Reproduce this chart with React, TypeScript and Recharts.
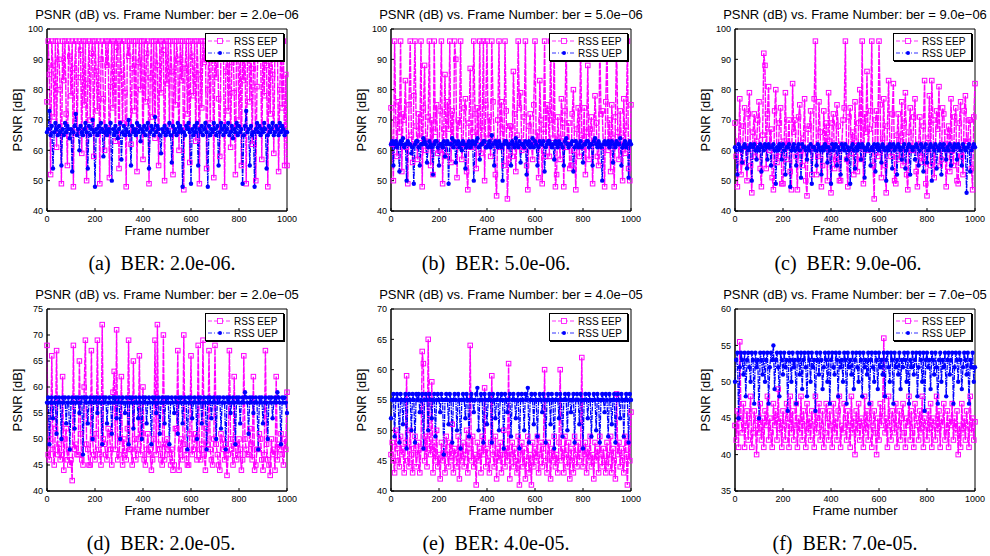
import { LineChart, Line, XAxis, YAxis, ReferenceArea } from 'recharts';

// one sample every 5 frames
const FRAME_STEP = 5;
const frameTicks = [0, 200, 400, 600, 800, 1000];

const eepA = [
  76, 96, 85, 52, 96, 88, 71, 96, 61, 96, 90, 80, 49, 96, 83, 96, 72, 55, 96, 91,
  78, 96, 48, 87, 96, 66, 84, 96, 93, 59, 96, 75, 96, 50, 82, 96, 70, 92, 96, 58,
  96, 86, 73, 96, 49, 90, 96, 77, 60, 96, 88, 96, 51, 81, 96, 74, 96, 63, 94, 96,
  54, 96, 85, 69, 96, 79, 48, 96, 91, 96, 62, 87, 96, 73, 96, 53, 89, 96, 80, 96,
  57, 96, 76, 92, 96, 49, 84, 96, 71, 96, 64, 96, 88, 55, 96, 79, 96, 93, 50, 96,
  82, 96, 68, 96, 86, 52, 96, 75, 96, 90, 60, 96, 83, 96, 47, 87, 96, 72, 96, 56,
  96, 91, 78, 96, 63, 96, 85, 49, 96, 74, 96, 89, 96, 54, 80, 96, 69, 94, 96, 51,
  96, 84, 96, 77, 58, 96, 92, 96, 48, 86, 96, 73, 96, 61, 89, 96, 79, 52, 96, 95,
  70, 96, 55, 96, 83, 96, 49, 90, 96, 76, 96, 62, 87, 96, 50, 81, 96, 93, 96, 57,
  96, 78, 96, 88, 48, 96, 72, 96, 85, 59, 96, 91, 96, 53, 80, 96, 74, 96, 55, 85,
  55,
];
const uepA = [
  66, 67, 73, 65, 68, 54, 66, 69, 67, 65, 68, 66, 55, 67, 65, 69, 66, 68, 67, 64,
  67, 53, 66, 68, 72, 65, 67, 60, 68, 66, 65, 67, 69, 66, 54, 68, 65, 67, 70, 66,
  48, 67, 65, 68, 66, 69, 67, 58, 66, 68, 65, 67, 66, 69, 50, 67, 65, 68, 66, 64,
  67, 69, 57, 66, 68, 65, 67, 66, 70, 65, 55, 68, 66, 67, 65, 69, 66, 68, 63, 67,
  66, 68, 65, 67, 69, 54, 66, 68, 67, 65, 71, 66, 68, 67, 65, 59, 67, 66, 68, 65,
  67, 66, 69, 65, 56, 68, 66, 67, 65, 69, 66, 68, 67, 48, 66, 65, 68, 67, 69, 66,
  49, 67, 65, 68, 66, 69, 55, 67, 66, 68, 65, 67, 69, 66, 48, 68, 65, 67, 66, 69,
  67, 65, 68, 55, 66, 69, 67, 65, 68, 66, 67, 69, 65, 66, 68, 64, 67, 66, 69, 65,
  68, 66, 67, 49, 65, 68, 73, 66, 67, 55, 68, 65, 66, 48, 67, 69, 66, 68, 65, 67,
  66, 69, 67, 54, 65, 68, 66, 67, 69, 65, 66, 68, 67, 65, 69, 66, 68, 67, 65, 66,
  66,
];

const eepB = [
  74, 62, 50, 96, 70, 58, 76, 66, 96, 53, 72, 70, 83, 61, 49, 75, 96, 65, 56, 78,
  96, 68, 57, 72, 64, 96, 48, 74, 88, 60, 63, 71, 96, 55, 70, 52, 96, 66, 75, 59,
  60, 73, 96, 49, 67, 85, 58, 76, 67, 96, 56, 73, 62, 96, 90, 51, 70, 68, 96, 57,
  62, 74, 77, 53, 47, 69, 87, 61, 66, 96, 72, 54, 74, 63, 96, 59, 68, 96, 50, 75,
  96, 64, 71, 58, 96, 76, 63, 52, 45, 70, 96, 61, 76, 67, 55, 96, 73, 44, 57, 68,
  68, 58, 86, 72, 53, 65, 96, 74, 79, 60, 61, 71, 96, 55, 47, 68, 72, 62, 57, 75,
  96, 63, 66, 51, 83, 70, 49, 67, 96, 58, 75, 73, 58, 96, 70, 64, 96, 48, 52, 71,
  64, 57, 77, 69, 48, 73, 96, 61, 69, 54, 55, 72, 80, 60, 47, 67, 74, 58, 96, 65,
  61, 74, 52, 66, 88, 57, 67, 71, 49, 63, 78, 69, 58, 55, 96, 72, 73, 61, 48, 76,
  96, 60, 70, 53, 75, 64, 48, 71, 96, 66, 57, 73, 63, 50, 77, 59, 68, 96, 54, 50,
  75,
];
const uepB = [
  62, 63, 55, 62, 63, 61, 62, 53, 63, 62, 64, 61, 62, 50, 63, 62, 62, 59, 61, 49,
  62, 63, 63, 61, 55, 62, 62, 64, 63, 62, 56, 61, 63, 62, 61, 52, 62, 63, 63, 61,
  55, 62, 62, 61, 63, 58, 62, 63, 49, 62, 62, 64, 61, 63, 56, 62, 63, 61, 62, 60,
  63, 62, 54, 61, 62, 63, 61, 62, 63, 50, 62, 63, 64, 61, 57, 62, 62, 63, 63, 61,
  61, 62, 63, 61, 65, 62, 55, 63, 62, 61, 63, 62, 61, 50, 62, 63, 63, 62, 61, 62,
  55, 63, 62, 61, 64, 62, 61, 63, 56, 62, 62, 61, 63, 52, 62, 63, 61, 62, 64, 61,
  63, 62, 55, 61, 63, 62, 62, 63, 53, 61, 62, 63, 63, 62, 61, 62, 57, 63, 62, 61,
  63, 62, 62, 61, 55, 63, 64, 62, 61, 62, 62, 63, 53, 61, 63, 62, 61, 62, 63, 61,
  56, 62, 62, 63, 63, 61, 62, 62, 55, 63, 64, 62, 61, 63, 62, 61, 50, 62, 63, 62,
  62, 63, 61, 62, 63, 56, 62, 61, 63, 62, 62, 64, 55, 61, 62, 63, 61, 62, 51, 63,
  62,
];

const eepC = [
  69, 58, 48, 63, 77, 52, 56, 68, 74, 61, 50, 72, 79, 55, 46, 66, 72, 58, 63, 70,
  76, 54, 48, 65, 92, 88, 54, 72, 81, 60, 67, 51, 47, 73, 80, 56, 58, 69, 74, 49,
  49, 63, 79, 57, 62, 70, 53, 47, 82, 66, 70, 58, 47, 71, 75, 60, 55, 64, 77, 50,
  45, 67, 68, 73, 52, 61, 77, 96, 52, 58, 76, 66, 48, 55, 73, 61, 69, 50, 79, 63,
  46, 69, 72, 54, 57, 75, 68, 50, 50, 62, 70, 74, 96, 57, 48, 71, 74, 59, 66, 52,
  76, 63, 53, 69, 80, 57, 96, 49, 72, 66, 86, 60, 67, 73, 96, 55, 44, 70, 73, 58,
  96, 75, 51, 64, 77, 55, 46, 68, 83, 61, 58, 72, 82, 50, 49, 65, 72, 57, 63, 76,
  55, 69, 79, 52, 47, 66, 74, 60, 60, 71, 77, 53, 48, 62, 71, 58, 56, 68, 83, 49,
  45, 64, 78, 55, 83, 70, 51, 61, 73, 67, 81, 55, 57, 74, 72, 62, 48, 66, 68, 53,
  77, 60, 55, 71, 74, 50, 49, 69, 76, 58, 52, 73, 78, 63, 63, 70, 70, 54, 47, 71,
  82,
];
const uepC = [
  61, 60, 52, 62, 61, 60, 56, 61, 62, 61, 54, 60, 61, 62, 50, 61, 62, 60, 57, 61,
  60, 62, 53, 61, 60, 62, 61, 57, 62, 61, 55, 61, 62, 60, 49, 61, 60, 62, 61, 57,
  62, 60, 52, 61, 61, 62, 48, 60, 61, 62, 60, 55, 61, 62, 60, 51, 62, 61, 61, 60,
  57, 61, 60, 62, 49, 61, 61, 60, 55, 62, 61, 60, 52, 61, 60, 62, 61, 56, 61, 60,
  49, 62, 60, 61, 62, 55, 61, 60, 52, 62, 61, 60, 62, 57, 61, 60, 49, 61, 62, 60,
  54, 61, 60, 62, 61, 57, 62, 61, 51, 60, 61, 62, 60, 55, 61, 60, 62, 53, 61, 62,
  60, 61, 56, 62, 61, 60, 50, 61, 60, 62, 61, 54, 62, 60, 61, 52, 62, 61, 60, 57,
  61, 62, 54, 60, 61, 62, 52, 61, 60, 61, 57, 62, 61, 55, 60, 62, 61, 53, 61, 62,
  56, 60, 61, 62, 50, 61, 60, 62, 54, 61, 60, 62, 52, 61, 62, 60, 57, 61, 60, 62,
  55, 61, 60, 62, 61, 57, 62, 61, 60, 55, 62, 61, 60, 46, 61, 62, 53, 60, 61, 62,
  61,
];

const eepD = [
  68, 47, 46, 50, 66, 48, 45, 52, 67, 47, 49, 46, 47, 62, 44, 50, 52, 46, 48, 45,
  46, 42, 68, 48, 49, 47, 47, 65, 51, 46, 45, 60, 69, 49, 48, 45, 45, 67, 50, 47,
  46, 51, 69, 48, 47, 45, 72, 50, 49, 47, 46, 52, 51, 48, 45, 59, 63, 48, 71, 46,
  47, 50, 62, 45, 50, 47, 46, 52, 69, 48, 48, 45, 65, 50, 46, 48, 50, 66, 47, 51,
  60, 46, 45, 48, 51, 47, 48, 44, 46, 50, 69, 47, 72, 49, 48, 46, 45, 70, 46, 49,
  50, 48, 47, 45, 48, 44, 45, 52, 52, 67, 44, 48, 50, 46, 70, 49, 47, 45, 45, 51,
  66, 47, 48, 50, 51, 46, 68, 48, 46, 49, 69, 47, 44, 52, 49, 67, 48, 46, 45, 50,
  68, 49, 47, 45, 44, 51, 50, 48, 46, 49, 43, 47, 67, 50, 48, 45, 62, 49, 46, 47,
  50, 48, 44, 46, 66, 50, 48, 47, 47, 52, 49, 46, 62, 44, 45, 48, 48, 51, 50, 46,
  44, 47, 67, 49, 46, 45, 43, 50, 47, 48, 44, 62, 46, 49, 48, 51, 47, 45, 50, 48,
  59,
];
const uepD = [
  57, 58, 49, 57, 58, 54, 57, 58, 51, 57, 58, 57, 50, 58, 57, 58, 53, 57, 58, 48,
  57, 58, 57, 52, 58, 57, 58, 55, 57, 58, 47, 58, 57, 58, 53, 57, 58, 57, 50, 58,
  57, 58, 55, 57, 58, 57, 49, 58, 57, 58, 53, 57, 58, 57, 51, 58, 57, 58, 54, 57,
  58, 50, 57, 58, 57, 55, 58, 57, 49, 58, 57, 58, 52, 57, 58, 57, 54, 58, 57, 50,
  58, 57, 58, 53, 57, 58, 57, 49, 58, 57, 58, 55, 57, 58, 51, 57, 58, 57, 53, 58,
  57, 58, 49, 57, 58, 57, 55, 58, 57, 51, 58, 57, 58, 53, 57, 58, 57, 48, 58, 57,
  58, 54, 57, 58, 57, 50, 58, 57, 58, 53, 57, 58, 57, 48, 58, 57, 58, 54, 57, 58,
  57, 50, 58, 57, 58, 52, 57, 58, 57, 48, 58, 57, 58, 55, 57, 58, 57, 49, 58, 57,
  58, 53, 57, 58, 57, 59, 58, 57, 51, 58, 57, 58, 55, 57, 58, 57, 48, 58, 57, 58,
  53, 57, 58, 57, 50, 58, 57, 58, 54, 57, 58, 57, 59, 58, 57, 49, 58, 57, 58, 57,
  55,
];

const eepE = [
  46, 48, 45, 43, 50, 47, 45, 44, 49, 46, 47, 43, 48, 59, 45, 44, 50, 46, 43, 47,
  49, 44, 46, 48, 43, 47, 63, 61, 45, 49, 44, 65, 47, 46, 58, 43, 48, 45, 50, 44,
  46, 42, 48, 45, 47, 43, 49, 46, 44, 48, 45, 51, 43, 47, 46, 44, 49, 42, 47, 45,
  48, 44, 46, 50, 43, 47, 64, 45, 49, 44, 46, 41, 48, 45, 47, 43, 49, 46, 57, 44,
  47, 45, 43, 48, 59, 46, 44, 49, 42, 47, 45, 48, 43, 46, 50, 44, 47, 45, 61, 42,
  46, 48, 44, 47, 45, 43, 49, 41, 46, 48, 44, 47, 42, 45, 49, 43, 46, 41, 48, 44,
  47, 45, 49, 43, 46, 48, 44, 47, 60, 45, 43, 48, 46, 42, 47, 45, 49, 44, 46, 43,
  48, 60, 45, 47, 43, 49, 46, 44, 48, 42, 47, 45, 43, 49, 46, 44, 48, 45, 47, 62,
  44, 46, 48, 43, 47, 45, 49, 44, 46, 42, 48, 45, 47, 43, 49, 46, 44, 47, 45, 43,
  48, 44, 46, 49, 43, 47, 45, 42, 56, 46, 48, 44, 47, 45, 43, 49, 46, 41, 48, 45,
  53,
];
const uepE = [
  52, 55, 56, 49, 55, 56, 55, 48, 56, 55, 51, 55, 56, 47, 55, 56, 55, 50, 56, 55,
  48, 56, 55, 56, 53, 55, 56, 47, 55, 56, 55, 50, 56, 55, 52, 55, 56, 49, 55, 56,
  55, 53, 56, 55, 46, 55, 56, 55, 51, 56, 55, 48, 55, 56, 55, 50, 56, 55, 47, 55,
  56, 55, 52, 56, 55, 49, 55, 56, 55, 53, 55, 56, 57, 50, 55, 56, 55, 48, 56, 55,
  51, 55, 56, 55, 48, 56, 55, 52, 55, 56, 50, 55, 56, 55, 47, 56, 55, 53, 55, 56,
  49, 55, 56, 55, 52, 55, 56, 47, 55, 56, 55, 50, 56, 55, 57, 48, 55, 56, 55, 51,
  56, 55, 49, 55, 56, 55, 53, 56, 55, 48, 55, 56, 55, 51, 56, 55, 47, 55, 56, 55,
  52, 56, 55, 49, 55, 56, 55, 50, 56, 55, 53, 55, 56, 48, 55, 56, 55, 51, 56, 55,
  47, 55, 56, 55, 52, 56, 55, 49, 55, 56, 55, 50, 56, 55, 48, 55, 56, 55, 53, 56,
  55, 49, 56, 55, 51, 55, 56, 48, 55, 56, 55, 52, 56, 55, 49, 55, 56, 55, 48, 56,
  55,
];

const eepF = [
  44, 42, 46, 41, 55.5, 45, 43, 47, 41, 44, 46, 42, 45, 48, 41, 43, 46, 44, 40, 45,
  43, 47, 42, 45, 41, 46, 44, 48, 42, 45, 43, 41, 47, 44, 46, 42, 49, 43, 45, 41,
  46, 44, 42, 47, 45, 41, 48, 43, 46, 42, 44, 47, 41, 45, 43, 48, 42, 46, 44, 41,
  47, 43, 45, 42, 46, 44, 41, 48, 43, 45, 47, 42, 44, 46, 41, 43, 47, 45, 42, 46,
  44, 41, 47, 43, 45, 42, 46, 48, 41, 44, 43, 47, 45, 42, 46, 44, 41, 48, 43, 45,
  40, 46, 43, 47, 42, 45, 44, 41, 48, 43, 46, 42, 45, 47, 41, 44, 46, 43, 40, 45,
  42, 47, 44, 46, 56, 43, 45, 41, 48, 44, 42, 46, 45, 43, 47, 41, 44, 46, 42, 45,
  47, 43, 41, 45, 44, 48, 42, 46, 43, 41, 47, 45, 44, 42, 46, 43, 48, 41, 45, 44,
  42, 46, 43, 47, 41, 45, 44, 42, 48, 43, 46, 41, 45, 44, 47, 42, 43, 46, 41, 45,
  44, 47, 42, 45, 43, 46, 40, 44, 41, 47, 43, 45, 42, 46, 44, 41, 48, 43, 45, 42,
  44.5,
];
const uepF = [
  50, 53, 54, 45, 52, 54, 53, 51, 54, 48, 53, 54, 52, 50, 54, 53, 47, 54, 52, 53,
  45, 54, 53, 51, 54, 50, 53, 54, 47, 52, 54, 53, 55, 49, 53, 54, 52, 48, 54, 53,
  51, 54, 52, 53, 46, 54, 53, 50, 54, 52, 53, 47, 54, 53, 51, 54, 49, 53, 54, 52,
  48, 54, 53, 50, 54, 52, 53, 46, 54, 53, 51, 54, 53, 49, 52, 54, 53, 50, 54, 47,
  53, 54, 52, 51, 54, 53, 48, 54, 52, 53, 50, 54, 53, 47, 54, 52, 53, 51, 54, 49,
  53, 54, 52, 50, 54, 53, 48, 54, 52, 53, 51, 54, 47, 53, 54, 52, 50, 54, 53, 49,
  54, 52, 53, 51, 54, 48, 53, 54, 52, 50, 54, 53, 47, 54, 52, 53, 51, 54, 49, 53,
  52, 54, 53, 50, 54, 47, 53, 52, 54, 51, 53, 54, 48, 52, 54, 53, 50, 54, 46, 53,
  54, 52, 53, 49, 54, 53, 51, 54, 52, 47, 53, 54, 50, 53, 52, 54, 48, 53, 54, 51,
  53, 54, 47, 52, 54, 53, 50, 54, 53, 49, 52, 54, 53, 51, 54, 47, 53, 52, 54, 50,
  52,
];

const yTicksHigh = [40, 50, 60, 70, 80, 90, 100];
const yTicksD = [40, 45, 50, 55, 60, 65, 70, 75];
const yTicksE = [40, 45, 50, 55, 60, 65, 70];
const yTicksF = [35, 40, 45, 50, 55, 60];

const EEP = '#ff00ff';
const UEP = '#0000ff';
const SANS = '"Liberation Sans", Arial, Helvetica, sans-serif';

const PW = 240;
const PH = 182;
const ML = 40;
const MT = 5;
const MR = 16;
const XH = 24;

const squareDot = (p: any) => {
  if (p.cx == null || p.cy == null) return <g key={p.index} />;
  return <rect key={p.index} x={p.cx - 2.25} y={p.cy - 2.25} width={4.5} height={4.5} fill="none" stroke={EEP} strokeWidth={1} />;
};

type PanelProps = {
  x: number;
  y: number;
  ber: string;
  caption: string;
  capX: number;
  eep: number[];
  uep: number[];
  yTicks: number[];
};

function Panel({ x, y, ber, caption, capX, eep, uep, yTicks }: PanelProps) {
  const data = eep.map((v, i) => ({ frame: i * FRAME_STEP, eep: v, uep: uep[i] }));
  const yMin = yTicks[0];
  const yMax = yTicks[yTicks.length - 1];
  const cx = x + PW / 2;
  const tickStyle = { fontSize: 9, fill: '#000', fontFamily: SANS };

  return (
    <>
      <div style={{ position: 'absolute', left: cx - 170, top: y - 21, width: 340, height: 14, lineHeight: '14px', textAlign: 'center', fontSize: 13, fontFamily: SANS, whiteSpace: 'nowrap' }}>
        PSNR (dB) vs. Frame Number: ber = {ber}
      </div>
      <div style={{ position: 'absolute', left: x - ML, top: y - MT }}>
        <LineChart width={ML + PW + MR} height={MT + PH + XH} data={data} margin={{ top: MT, right: MR, left: 0, bottom: 0 }}>
          <XAxis dataKey="frame" type="number" domain={[0, 1000]} ticks={frameTicks} height={XH}
            stroke="#000" tickSize={-3} tickMargin={8} tick={tickStyle} interval={0} />
          <YAxis type="number" domain={[yMin, yMax]} ticks={yTicks} width={ML} allowDataOverflow
            stroke="#000" tickSize={-3} tickMargin={7} tick={tickStyle} interval={0} />
          <ReferenceArea x1={0} x2={1000} y1={yMin} y2={yMax} fill="none" stroke="#000" strokeWidth={1} />
          <Line dataKey="eep" type="linear" stroke={EEP} strokeWidth={1.4} strokeDasharray="6 1"
            dot={squareDot} isAnimationActive={false} />
          <Line dataKey="uep" type="linear" stroke={UEP} strokeWidth={1.3} strokeDasharray="5 1 1.5 1"
            dot={{ r: 2.2, fill: UEP, stroke: UEP, strokeWidth: 0 }} isAnimationActive={false} />
        </LineChart>
      </div>
      {/* legend box, top right inside the axes */}
      <div style={{ position: 'absolute', left: x + PW - 82, top: y + 4, width: 77, height: 26, border: '1px solid #000', boxShadow: '1px 1px 0 #000', background: '#fff', fontFamily: SANS, fontSize: 10 }}>
        {[
          { label: 'RSS EEP', color: EEP, dash: '4 2', square: true },
          { label: 'RSS UEP', color: UEP, dash: '4 2 1 2', square: false },
        ].map((it, i) => (
          <div key={it.label} style={{ position: 'absolute', left: 0, top: 1 + i * 12, height: 12, width: 77, display: 'flex', alignItems: 'center' }}>
            <svg width={27} height={12} style={{ display: 'block' }}>
              <line x1={2} x2={25} y1={6} y2={6} stroke={it.color} strokeWidth={0.8} strokeDasharray={it.dash} />
              {it.square
                ? <rect x={11.5} y={3.5} width={5} height={5} fill="#fff" stroke={it.color} strokeWidth={0.8} />
                : <circle cx={14} cy={6} r={2} fill={it.color} />}
            </svg>
            <span style={{ marginLeft: 1 }}>{it.label}</span>
          </div>
        ))}
      </div>
      <div style={{ position: 'absolute', left: cx - 60, top: y + 195, width: 120, height: 14, lineHeight: '14px', textAlign: 'center', fontSize: 13, fontFamily: SANS }}>
        Frame number
      </div>
      <div style={{ position: 'absolute', left: x - 29 - 50, top: y + PH / 2 - 7, width: 100, height: 14, lineHeight: '14px', textAlign: 'center', fontSize: 13, fontFamily: SANS, transform: 'rotate(-90deg)' }}>
        PSNR [dB]
      </div>
      <div style={{ position: 'absolute', left: capX - 120, top: y + 222, width: 240, height: 24, lineHeight: '24px', textAlign: 'center', fontSize: 20, fontFamily: '"Liberation Serif", "Times New Roman", serif', whiteSpace: 'pre' }}>
        {caption}
      </div>
    </>
  );
}

export default function App() {
  return (
    <div style={{ position: 'absolute', left: 0, top: 0, width: 990, height: 556, background: '#fff', overflow: 'hidden' }}>
      <Panel x={47} y={29} ber="2.0e−06" caption="(a)  BER: 2.0e-06." capX={162} eep={eepA} uep={uepA} yTicks={yTicksHigh} />
      <Panel x={391} y={29} ber="5.0e−06" caption="(b)  BER: 5.0e-06." capX={496} eep={eepB} uep={uepB} yTicks={yTicksHigh} />
      <Panel x={735} y={29} ber="9.0e−06" caption="(c)  BER: 9.0e-06." capX={848} eep={eepC} uep={uepC} yTicks={yTicksHigh} />
      <Panel x={47} y={309} ber="2.0e−05" caption="(d)  BER: 2.0e-05." capX={161} eep={eepD} uep={uepD} yTicks={yTicksD} />
      <Panel x={391} y={309} ber="4.0e−05" caption="(e)  BER: 4.0e-05." capX={496} eep={eepE} uep={uepE} yTicks={yTicksE} />
      <Panel x={735} y={309} ber="7.0e−05" caption="(f)  BER: 7.0e-05." capX={845} eep={eepF} uep={uepF} yTicks={yTicksF} />
    </div>
  );
}
